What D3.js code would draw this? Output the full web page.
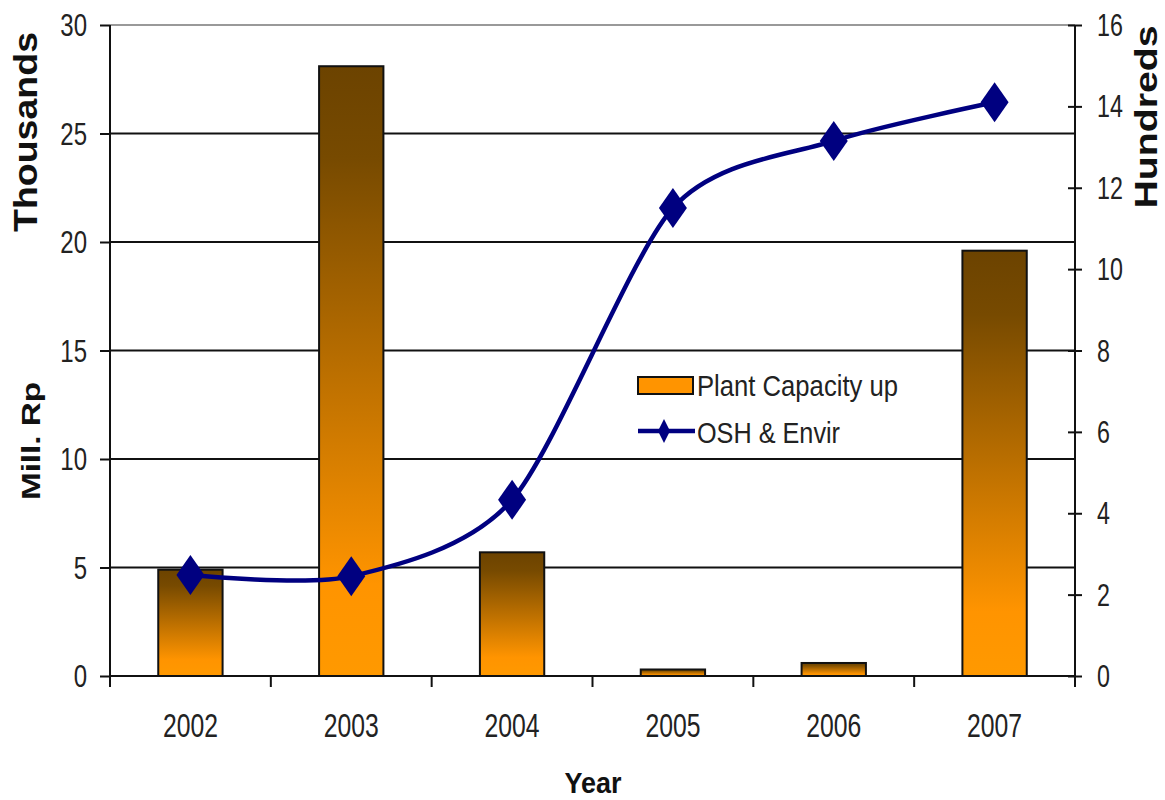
<!DOCTYPE html>
<html>
<head>
<meta charset="utf-8">
<script src="https://cdn.jsdelivr.net/npm/d3@7"></script>
<style>
  body { margin: 0; background: #fff; }
  svg text { font-family: "Liberation Sans", Arial, sans-serif; }
</style>
</head>
<body>
<svg id="chart" width="1165" height="800"></svg>
<script>
// data
const years = ['2002', '2003', '2004', '2005', '2006', '2007'];
const plantCapacity = [4.9, 28.1, 5.7, 0.3, 0.6, 19.6];     // thousands, left axis
const oshEnvir = [2.48, 2.45, 4.33, 11.5, 13.15, 14.1];     // hundreds, right axis
const leftTicks = [0, 5, 10, 15, 20, 25, 30];
const rightTicks = [0, 2, 4, 6, 8, 10, 12, 14, 16];

const svg = d3.select('#chart');
const m = { left: 110, right: 1075, top: 25, bottom: 676 };
const sx = 0.75; // the original text is squeezed sideways

const x = d3.scaleBand().domain(years).range([m.left, m.right]).paddingInner(0.6).paddingOuter(0.3);
const xCenter = d => x(d) + x.bandwidth() / 2;
const y = d3.scaleLinear().domain([0, 30]).range([m.bottom, m.top]);
const y2 = d3.scaleLinear().domain([0, 16]).range([m.bottom, m.top]);

// gradient for the bars
const defs = svg.append('defs');
const grad = defs.append('linearGradient').attr('id', 'barGrad')
  .attr('x1', 0).attr('y1', 0).attr('x2', 0).attr('y2', 1);
grad.append('stop').attr('offset', '0%').attr('stop-color', '#6c4300');
grad.append('stop').attr('offset', '15%').attr('stop-color', '#774a00');
grad.append('stop').attr('offset', '85%').attr('stop-color', '#ff9400');
grad.append('stop').attr('offset', '100%').attr('stop-color', '#ff9900');

// gridlines
svg.append('g').selectAll('line').data(leftTicks.filter(d => d > 0)).enter().append('line')
  .attr('x1', m.left).attr('x2', m.right)
  .attr('y1', d => y(d)).attr('y2', d => y(d))
  .attr('stroke', d => d === 30 ? '#999' : '#111')
  .attr('stroke-width', 2);

// left axis
const leftAxis = svg.append('g').attr('transform', `translate(${m.left},0)`)
  .call(d3.axisLeft(y).tickValues(leftTicks).tickSize(10));
leftAxis.select('.domain').attr('stroke', '#111').attr('stroke-width', 2).attr('d', `M0,${m.top}V${m.bottom + 10}`);
leftAxis.selectAll('.tick line').attr('stroke', '#111').attr('stroke-width', 2);
leftAxis.selectAll('.tick text').attr('font-size', 32).attr('fill', '#222')
  .attr('x', -23 / sx).attr('dy', '0.34em').attr('transform', `scale(${sx},1)`);

// right axis
const rightAxis = svg.append('g').attr('transform', `translate(${m.right},0)`)
  .call(d3.axisRight(y2).tickValues(rightTicks).tickSize(7));
rightAxis.select('.domain').attr('stroke', '#111').attr('stroke-width', 2).attr('d', `M0,${m.top}V${m.bottom}`);
rightAxis.selectAll('.tick line').attr('stroke', '#111').attr('stroke-width', 2).attr('x1', -7);
rightAxis.selectAll('.tick text').attr('font-size', 31).attr('fill', '#222')
  .attr('x', 22 / sx).attr('dy', '0.34em').attr('transform', `scale(${sx},1)`);

// bars
svg.append('g').selectAll('rect').data(years).enter().append('rect')
  .attr('x', d => x(d))
  .attr('y', (d, i) => y(plantCapacity[i]))
  .attr('width', x.bandwidth())
  .attr('height', (d, i) => y(0) - y(plantCapacity[i]))
  .attr('fill', 'url(#barGrad)')
  .attr('stroke', '#111').attr('stroke-width', 2);

// x axis
const step = (m.right - m.left) / years.length;
svg.append('line').attr('x1', m.left).attr('x2', m.right).attr('y1', m.bottom).attr('y2', m.bottom)
  .attr('stroke', '#111').attr('stroke-width', 2);
svg.append('g').selectAll('line').data(d3.range(years.length + 1)).enter().append('line')
  .attr('x1', i => m.left + i * step).attr('x2', i => m.left + i * step)
  .attr('y1', m.bottom).attr('y2', m.bottom + 11)
  .attr('stroke', '#111').attr('stroke-width', 2);
svg.append('g').selectAll('text').data(years).enter().append('text')
  .attr('x', d => xCenter(d)).attr('y', 737)
  .attr('text-anchor', 'middle').attr('font-size', 34).attr('fill', '#222')
  .attr('textLength', 55).attr('lengthAdjust', 'spacingAndGlyphs')
  .text(d => d);

// line
const line = d3.line()
  .x((d, i) => xCenter(years[i]))
  .y(d => y2(d))
  .curve(d3.curveCardinal.tension(0.2));
svg.append('path').datum(oshEnvir)
  .attr('d', line).attr('fill', 'none')
  .attr('stroke', '#000080').attr('stroke-width', 4.5);

const diamond = 'M0,-20L14,0L0,20L-14,0Z';
svg.append('g').selectAll('path').data(oshEnvir).enter().append('path')
  .attr('d', diamond)
  .attr('transform', (d, i) => `translate(${xCenter(years[i])},${y2(d)})`)
  .attr('fill', '#000080');

// axis titles
const title = (tx, ty, rot, size, len, txt) => svg.append('text')
  .attr('transform', `translate(${tx},${ty}) rotate(${rot})`).attr('text-anchor', 'middle')
  .attr('font-size', size).attr('font-weight', 'bold').attr('fill', '#111')
  .attr('textLength', len).attr('lengthAdjust', 'spacingAndGlyphs').text(txt);
title(593, 793, 0, 29, 57, 'Year');
title(37, 132, -90, 33, 200, 'Thousands');
title(40, 441, -90, 26, 118, 'Mill. Rp');
title(1157, 117, -90, 31, 183, 'Hundreds');

// legend
const legend = svg.append('g');
legend.append('rect').attr('x', 638).attr('y', 377).attr('width', 55).attr('height', 17)
  .attr('fill', '#ff9400').attr('stroke', '#111').attr('stroke-width', 2);
legend.append('text').attr('x', 697).attr('y', 396).attr('font-size', 29).attr('fill', '#222')
  .attr('textLength', 201).attr('lengthAdjust', 'spacingAndGlyphs').text('Plant Capacity up');
legend.append('line').attr('x1', 638).attr('x2', 695).attr('y1', 431).attr('y2', 431)
  .attr('stroke', '#000080').attr('stroke-width', 4.5);
legend.append('path').attr('d', 'M0,-12L6,0L0,12L-6,0Z').attr('transform', 'translate(664,431)').attr('fill', '#000080');
legend.append('text').attr('x', 697).attr('y', 443).attr('font-size', 29).attr('fill', '#222')
  .attr('textLength', 143).attr('lengthAdjust', 'spacingAndGlyphs').text('OSH & Envir');
</script>
</body>
</html>
